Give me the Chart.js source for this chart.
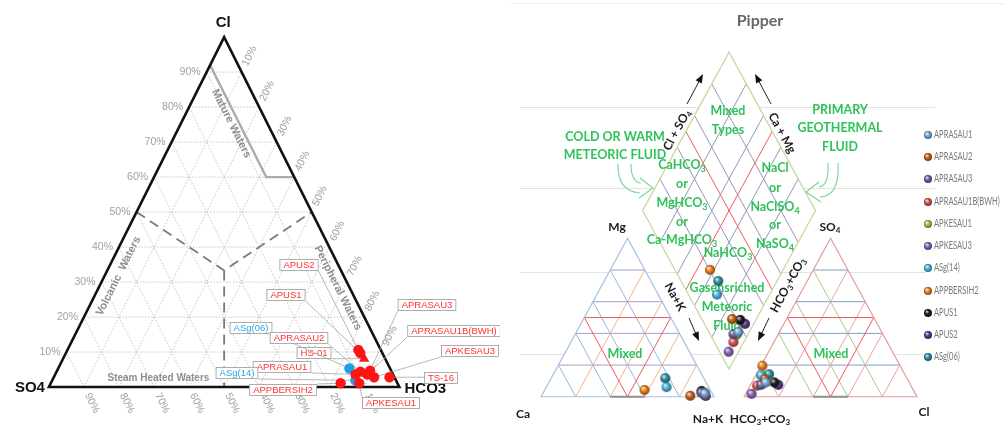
<!DOCTYPE html>
<html>
<head>
<meta charset="utf-8">
<script src="https://cdn.jsdelivr.net/npm/chart.js@4.4.1/dist/chart.umd.min.js"></script>
<style>
  html, body { margin: 0; padding: 0; background: #fff; }
  #wrap { position: relative; width: 1005px; height: 429px; overflow: hidden; }
  #c1 { position: absolute; left: 0; top: 0; }
  #c2 { position: absolute; left: 500px; top: 0; }
</style>
</head>
<body>
<div id="wrap">
  <canvas id="c1" width="500" height="429"></canvas>
  <canvas id="c2" width="505" height="429"></canvas>
</div>
<script>
// ---------------- Cl – SO4 – HCO3 ternary (percent of anion sum) ----------------
const gigSamples = ['APUS2', 'APUS1', 'HS-01', 'ASg(06)', 'APRASAU2', 'APRASAU1', 'APRASAU3',
                    'APRASAU1B(BWH)', 'APKESAU3', 'TS-16', 'ASg(14)', 'APKESAU1', 'APPBERSIH2'];
const gigCl   = [10.6, 9.7, 8.1, 5.3, 4.4, 3.6, 4.7, 3.6, 2.8, 2.8, 1.9, 1.1, 1.1];
const gigSO4  = [6.4, 6.3, 6.0, 11.6, 8.9, 10.7, 6.0, 7.4, 5.8, 1.4, 11.6, 10.9, 16.2];
const gigHCO3 = [83.0, 84.0, 85.9, 83.1, 86.7, 85.7, 89.3, 89.0, 91.4, 95.8, 86.5, 88.0, 82.7];
const gigKind = ['well', 'well', 'spring', 'gas', 'well', 'well', 'well',
                 'well', 'well', 'well', 'gas', 'well', 'well'];
const gigTicks = [10, 20, 30, 40, 50, 60, 70, 80, 90];

// ---------------- Piper diagram (percent meq) ----------------
const piperSamples = ['APRASAU1', 'APRASAU2', 'APRASAU3', 'APRASAU1B(BWH)', 'APKESAU1', 'APKESAU3',
                      'ASg(14)', 'APPBERSIH2', 'APUS1', 'APUS2', 'ASg(06)'];
const piperCa   = [4.3, 13.4, 6.0, 4.5, 4.0, 4.7, 24.4, 38.0, 5.3, 4.5, 22.3];
const piperMg   = [2.0, 0.6, 2.5, 1.5, 2.5, 1.0, 6.1, 4.3, 3.7, 0.5, 11.7];
const piperNaK  = [93.7, 86.0, 91.5, 94.0, 93.5, 94.3, 69.5, 57.7, 91.0, 95.0, 66.0];
const piperHCO3 = [83.0, 82.5, 86.4, 89.0, 85.0, 94.8, 83.5, 79.7, 78.0, 76.5, 78.5];
const piperSO4  = [9.0, 11.0, 7.5, 7.0, 8.6, 1.8, 13.5, 19.6, 9.0, 7.5, 14.2];
const piperCl   = [8.0, 6.5, 6.1, 4.0, 6.4, 3.4, 3.0, 0.7, 13.0, 16.0, 7.3];
const piperColors = ['#7ea8d8', '#c8621c', '#6b64a0', '#d9534f', '#9cc45a', '#8a66b8',
                     '#4cb8e0', '#f0801e', '#1e1e1e', '#5a3a90', '#2f8fa0'];
const piperSteps = [20, 40, 60, 80];

// ---------------- shared text helpers ----------------
function richParts(str) {
  const parts = []; const re = /_(\d+)/g; let last = 0, m;
  while ((m = re.exec(str))) {
    if (m.index > last) parts.push({ t: str.slice(last, m.index), sub: false });
    parts.push({ t: m[1], sub: true });
    last = re.lastIndex;
  }
  if (last < str.length) parts.push({ t: str.slice(last), sub: false });
  return parts;
}
function drawRich(ctx, str, x, y, size, weight, family, align) {
  const parts = richParts(str);
  const fMain = `${weight} ${size}px ${family}`;
  const fSub = `${weight} ${Math.round(size * 0.7)}px ${family}`;
  let w = 0;
  parts.forEach(p => { ctx.font = p.sub ? fSub : fMain; p.w = ctx.measureText(p.t).width; w += p.w; });
  let cx = align === 'right' ? x - w : align === 'left' ? x : x - w / 2;
  ctx.textAlign = 'left'; ctx.textBaseline = 'middle';
  parts.forEach(p => {
    ctx.font = p.sub ? fSub : fMain;
    ctx.fillText(p.t, cx, p.sub ? y + size * 0.3 : y);
    cx += p.w;
  });
  return w;
}
function rotText(ctx, str, x, y, ang, size, weight, family) {
  ctx.save(); ctx.translate(x, y); ctx.rotate(ang);
  drawRich(ctx, str, 0, 0, size, weight, family, 'center');
  ctx.restore();
}

// ---------------- Cl – SO4 – HCO3 ternary chart ----------------
// Callout boxes (page pixels) for each sample label, same order as gigSamples
const calloutAt = [[299, 265], [286, 295], [314, 353], [251, 328], [299, 338], [282, 367], [427, 305],
                   [454, 331], [470, 351], [441, 378], [237, 373], [391, 403], [283, 390]];

function ternXY(cl, so4, hc) { const t = cl + so4 + hc; return { x: (hc + cl / 2) / t, y: cl / t }; }

const gigFrame = {
  id: 'gigFrame',
  beforeDatasetsDraw(chart) {
    const { ctx, scales: { x: xs, y: ys } } = chart;
    const T = (cl, so4, hc) => { const p = ternXY(cl, so4, hc); return [xs.getPixelForValue(p.x), ys.getPixelForValue(p.y)]; };
    const line = (pts) => { ctx.beginPath(); pts.forEach((p, i) => i ? ctx.lineTo(p[0], p[1]) : ctx.moveTo(p[0], p[1])); ctx.stroke(); };
    const F = 'Liberation Sans, Arial, sans-serif';
    ctx.save();

    // dotted 10 % grid
    ctx.strokeStyle = '#b9b9b9'; ctx.lineWidth = 0.8; ctx.setLineDash([1.6, 1.6]);
    gigTicks.forEach(f => {
      line([T(f, 100 - f, 0), T(f, 0, 100 - f)]);
      line([T(0, f, 100 - f), T(100 - f, f, 0)]);
      line([T(0, 100 - f, f), T(100 - f, 0, f)]);
    });
    ctx.setLineDash([]);

    // mature-water boundary
    ctx.strokeStyle = '#ababab'; ctx.lineWidth = 2.4;
    line([T(92, 8, 0), T(60, 8, 32), T(60, 0, 40)]);

    // partition to the centroid
    ctx.strokeStyle = '#7a7a7a'; ctx.lineWidth = 1.8; ctx.setLineDash([10, 6]);
    const c = T(1, 1, 1);
    line([T(50, 50, 0), c, T(50, 0, 50)]);
    line([c, T(0, 50, 50)]);
    ctx.setLineDash([]);

    // triangle frame
    ctx.strokeStyle = '#111'; ctx.lineWidth = 2.6; ctx.lineJoin = 'miter';
    ctx.beginPath();
    [T(100, 0, 0), T(0, 100, 0), T(0, 0, 100)].forEach((p, i) => i ? ctx.lineTo(p[0], p[1]) : ctx.moveTo(p[0], p[1]));
    ctx.closePath(); ctx.stroke();

    // percentage ticks
    ctx.fillStyle = '#a0a0a0';
    gigTicks.forEach(f => {
      const e = T(f, 100 - f, 0);
      drawRich(ctx, f + '%', e[0] - 6, e[1], 10.5, 'normal', F, 'right');
      // HCO3 along the right edge
      const r1 = T(100 - f, 0, f), r0 = T(0, 100 - f, f);
      let dx = r1[0] - r0[0], dy = r1[1] - r0[1], L = Math.hypot(dx, dy); dx /= L; dy /= L;
      rotText(ctx, f + '%', r1[0] + dx * 18, r1[1] + dy * 18, Math.atan2(dy, dx), 10.5, 'normal', F);
      // SO4 along the base
      const b1 = T(0, f, 100 - f), b0 = T(100 - f, f, 0);
      dx = b1[0] - b0[0]; dy = b1[1] - b0[1]; L = Math.hypot(dx, dy); dx /= L; dy /= L;
      rotText(ctx, f + '%', b1[0] + dx * 18, b1[1] + dy * 18, Math.atan2(dy, dx), 10.5, 'normal', F);
    });

    // field names
    const top = T(100, 0, 0), lft = T(0, 100, 0), rgt = T(0, 0, 100);
    const angR = Math.atan2(rgt[1] - top[1], rgt[0] - top[0]);
    const angL = Math.atan2(top[1] - lft[1], top[0] - lft[0]);
    ctx.fillStyle = '#8e8e8e';
    let p = T(75.3, 10.3, 14.4); rotText(ctx, 'Mature Waters', p[0], p[1], angR, 11, 'bold', F);
    p = T(31.7, 64.3, 4.0); rotText(ctx, 'Volcanic  Waters', p[0], p[1], angL, 11, 'bold', F);
    p = T(28.3, 3.4, 68.3); rotText(ctx, 'Peripheral Waters', p[0], p[1], angR, 11, 'bold', F);
    p = T(2.5, 67.5, 30.0); rotText(ctx, 'Steam Heated Waters', p[0], p[1], 0, 10, 'bold', F);

    // apex names
    ctx.fillStyle = '#111';
    drawRich(ctx, 'Cl', top[0] - 1, top[1] - 14, 15, 'bold', F, 'center');
    drawRich(ctx, 'SO4', lft[0] - 19, lft[1] + 1, 15, 'bold', F, 'center');
    drawRich(ctx, 'HCO3', rgt[0] + 26, rgt[1] + 2, 15, 'bold', F, 'center');

    // sample callouts
    ctx.font = `9.5px ${F}`;
    gigSamples.forEach((name, i) => {
      const pt = T(gigCl[i], gigSO4[i], gigHCO3[i]);
      const w = ctx.measureText(name).width + 8, h = 12;
      const [cx, cy] = calloutAt[i];
      const x0 = cx - w / 2, y0 = cy - h / 2;
      const ax = Math.min(Math.max(pt[0], x0), x0 + w), ay = Math.min(Math.max(pt[1], y0), y0 + h);
      ctx.strokeStyle = '#a6a6a6'; ctx.lineWidth = 0.8;
      ctx.beginPath(); ctx.moveTo(ax, ay); ctx.lineTo(pt[0], pt[1]); ctx.stroke();
      ctx.fillStyle = '#fff'; ctx.fillRect(x0, y0, w, h);
      ctx.strokeStyle = '#9a9a9a'; ctx.strokeRect(x0 + 0.5, y0 + 0.5, w - 1, h - 1);
      ctx.fillStyle = gigKind[i] === 'gas' ? '#2aa6e2' : '#ff3030';
      ctx.textAlign = 'center'; ctx.textBaseline = 'middle'; ctx.font = `9.5px ${F}`;
      ctx.fillText(name, cx, cy + 0.5);
    });
    ctx.restore();
  }
};

const kindStyle = {
  well:   { color: '#ff1414', style: 'circle', r: 5.2 },
  spring: { color: '#ff1414', style: 'triangle', r: 6 },
  gas:    { color: '#1da1e6', style: 'circle', r: 5.2 }
};
const gigDatasets = Object.keys(kindStyle).map(k => ({
  label: k,
  data: gigSamples.map((s, i) => i).filter(i => gigKind[i] === k)
        .map(i => ternXY(gigCl[i], gigSO4[i], gigHCO3[i])),
  pointStyle: kindStyle[k].style,
  pointRadius: kindStyle[k].r,
  backgroundColor: kindStyle[k].color,
  borderColor: kindStyle[k].color,
  borderWidth: 0
}));

new Chart(document.getElementById('c1'), {
  type: 'scatter',
  data: { datasets: gigDatasets },
  options: {
    responsive: false, animation: false, devicePixelRatio: 1,
    layout: { padding: 0 },
    plugins: { legend: { display: false }, tooltip: { enabled: false } },
    scales: {
      x: { type: 'linear', display: false, min: -44 / 359, max: 456 / 359 },
      y: { type: 'linear', display: false, min: -37 / 360, max: 392 / 360 }
    }
  },
  plugins: [gigFrame]
});

// ---------------- Piper chart ----------------
const GAP = 0.175;                        // gap between the two triangles, in base units
const DB = { x: 1 + GAP / 2, y: GAP };    // lowest vertex of the diamond

function cationXY(ca, mg, nak) { const t = ca + mg + nak; return { x: (nak + mg / 2) / t, y: mg / t }; }
function anionXY(hc, so4, cl) { const t = hc + so4 + cl; return { x: 1 + GAP + (cl + so4 / 2) / t, y: so4 / t }; }
function diamondXY(ca, mg, nak, hc, so4, cl) {
  const n = nak / (ca + mg + nak), h = hc / (hc + so4 + cl);
  return { x: DB.x + (n - h) / 2, y: DB.y + 2 - n - h };
}

function shade(hex, amt) {
  const n = parseInt(hex.slice(1), 16);
  let r = n >> 16, g = (n >> 8) & 255, b = n & 255;
  const f = v => Math.max(0, Math.min(255, Math.round(amt >= 0 ? v + (255 - v) * amt : v * (1 + amt))));
  return `rgb(${f(r)},${f(g)},${f(b)})`;
}
function sphere(color, r) {
  const c = document.createElement('canvas');
  c.width = c.height = 2 * r + 2;
  const x = c.getContext('2d'), m = r + 1;
  const g = x.createRadialGradient(m - r * 0.35, m - r * 0.4, r * 0.1, m, m, r);
  g.addColorStop(0, shade(color, 0.75));
  g.addColorStop(0.45, color);
  g.addColorStop(1, shade(color, -0.45));
  x.fillStyle = g; x.beginPath(); x.arc(m, m, r, 0, Math.PI * 2); x.fill();
  return c;
}

const piperDatasets = piperSamples.map((name, i) => ({
  label: name,
  data: [
    cationXY(piperCa[i], piperMg[i], piperNaK[i]),
    diamondXY(piperCa[i], piperMg[i], piperNaK[i], piperHCO3[i], piperSO4[i], piperCl[i]),
    anionXY(piperHCO3[i], piperSO4[i], piperCl[i])
  ],
  pointStyle: sphere(piperColors[i], 5),
  pointRadius: 5,
  backgroundColor: piperColors[i]
}));

const CANVAS_LEFT = 500;   // page offset of the Piper canvas
const greenNotes = [
  ['Mixed', 728, 111], ['Types', 728, 130],
  ['CaHCO_3', 682, 165], ['or', 682, 184], ['MgHCO_3', 682, 203], ['or', 682, 222], ['Ca-MgHCO_3', 682, 240],
  ['NaCl', 775, 168], ['or', 775, 188], ['NaClSO_4', 775, 207], ['or', 775, 225], ['NaSO_4', 775, 244],
  ['NaHCO_3', 728, 253],
  ['Gasensriched', 727, 288], ['Meteoric', 727, 307], ['Fluid', 727, 326],
  ['Mixed', 625, 354], ['Mixed', 831, 354],
  ['COLD OR WARM', 615, 137], ['METEORIC FLUID', 615, 155],
  ['PRIMARY', 840, 110], ['GEOTHERMAL', 840, 128], ['FLUID', 840, 147]
];
const legendY = [135, 157, 179, 202, 224, 246, 268, 291, 313, 335, 357];

const piperFrame = {
  id: 'piperFrame',
  beforeDatasetsDraw(chart) {
    const { ctx, scales: { x: xs, y: ys } } = chart;
    const P = (x, y) => [xs.getPixelForValue(x), ys.getPixelForValue(y)];
    const seg = (a, b, col, w) => {
      ctx.strokeStyle = col; ctx.lineWidth = w || 1;
      ctx.beginPath(); ctx.moveTo(...P(a[0], a[1])); ctx.lineTo(...P(b[0], b[1])); ctx.stroke();
    };
    const shape = (pts) => { ctx.beginPath(); pts.forEach((q, i) => { const p = P(q[0], q[1]); i ? ctx.lineTo(p[0], p[1]) : ctx.moveTo(p[0], p[1]); }); ctx.closePath(); };
    const F = 'Lato, "Open Sans", sans-serif';
    ctx.save();

    // light horizontal guide lines behind the diagram
    ctx.strokeStyle = '#e2e2e2'; ctx.lineWidth = 1;
    [[107, 20, 435], [188, 20, 435], [272, 20, 426], [354, 20, 426]].forEach(([y, a, b]) => {
      ctx.beginPath(); ctx.moveTo(a, y + 0.5); ctx.lineTo(b, y + 0.5); ctx.stroke();
    });
    ctx.strokeStyle = '#efefef';
    ctx.beginPath(); ctx.moveTo(10, 3.5); ctx.lineTo(505, 3.5); ctx.stroke();

    const cat = [[0, 0], [1, 0], [0.5, 1]];
    const an = [[1 + GAP, 0], [2 + GAP, 0], [1.5 + GAP, 1]];
    const dia = [[DB.x, DB.y], [DB.x + 0.5, DB.y + 1], [DB.x, DB.y + 2], [DB.x - 0.5, DB.y + 1]];
    ctx.fillStyle = '#fff';
    [cat, an, dia].forEach(s => { shape(s); ctx.fill(); });

    // cation triangle
    piperSteps.forEach(s => {
      const f = s / 100;
      seg([f / 2, f], [1 - f / 2, f], '#a99bd0');
      seg([f, 0], [f + (1 - f) / 2, 1 - f], '#f3b48c');
      seg([1 - f, 0], [(1 - f) / 2, 1 - f], '#93b9dc');
    });
    ctx.strokeStyle = '#f25a5a'; ctx.lineWidth = 1; shape([[0.25, 0.5], [0.75, 0.5], [0.5, 0]]); ctx.stroke();
    ctx.strokeStyle = '#a3c1e2'; ctx.lineWidth = 1.2; shape(cat); ctx.stroke();
    seg([0.4, 0], [0.6, 0], '#8f8f8f', 2.2);

    // anion triangle
    const o = 1 + GAP;
    piperSteps.forEach(s => {
      const f = s / 100;
      seg([o + f / 2, f], [o + 1 - f / 2, f], '#7f9ec8');
      seg([o + f, 0], [o + f + (1 - f) / 2, 1 - f], '#e9a3a3');
      seg([o + 1 - f, 0], [o + (1 - f) / 2, 1 - f], '#a9c98a');
    });
    ctx.strokeStyle = '#f25a5a'; ctx.lineWidth = 1; shape([[o + 0.25, 0.5], [o + 0.75, 0.5], [o + 0.5, 0]]); ctx.stroke();
    ctx.strokeStyle = '#e49c9c'; ctx.lineWidth = 1.2; shape(an); ctx.stroke();
    seg([o + 0.4, 0], [o + 0.6, 0], '#8f8f8f', 2.2);

    // diamond
    [...piperSteps, 50].forEach(s => {
      const f = s / 100, red = s === 50;
      const a = [DB.x - 0.5 * f, DB.y + f], b = [DB.x + 0.5 * f, DB.y + f];
      seg(a, [a[0] + 0.5, a[1] + 1], red ? '#f25a5a' : '#8e9db6');
      seg(b, [b[0] - 0.5, b[1] + 1], red ? '#f25a5a' : '#9d93bf');
    });
    ctx.strokeStyle = '#c6daa2'; ctx.lineWidth = 1.3; shape(dia); ctx.stroke();

    // annotations (page coordinates)
    ctx.translate(-CANVAS_LEFT, 0);
    ctx.fillStyle = '#676767';
    drawRich(ctx, 'Pipper', 760, 21, 16, 'bold', F, 'center');

    ctx.fillStyle = '#2fc25a';
    greenNotes.forEach(([t, x, y]) => drawRich(ctx, t, x, y, 12.5, 'bold', F, 'center'));

    // hollow curved pointers
    ctx.strokeStyle = '#7fd79b'; ctx.lineWidth = 1.2;
    ctx.beginPath(); ctx.moveTo(618, 164); ctx.quadraticCurveTo(617, 191, 640, 193); ctx.stroke();
    ctx.beginPath(); ctx.moveTo(631, 164); ctx.quadraticCurveTo(631, 182, 641, 183); ctx.stroke();
    ctx.beginPath(); ctx.moveTo(640, 178); ctx.lineTo(653, 188); ctx.lineTo(639, 198); ctx.stroke();
    ctx.beginPath(); ctx.moveTo(838, 163); ctx.quadraticCurveTo(840, 196, 820, 197); ctx.stroke();
    ctx.beginPath(); ctx.moveTo(828, 163); ctx.quadraticCurveTo(829, 186, 819, 187); ctx.stroke();
    ctx.beginPath(); ctx.moveTo(819, 182); ctx.lineTo(806, 192); ctx.lineTo(821, 202); ctx.stroke();

    // axis names
    ctx.fillStyle = '#1c1c1c';
    [['Mg', 617, 227], ['Ca', 523, 414], ['Na+K', 708, 419], ['HCO_3+CO_3', 760, 419], ['SO_4', 830, 227], ['Cl', 924, 412]]
      .forEach(([t, x, y]) => drawRich(ctx, t, x, y, 12, 'bold', F, 'center'));
    const up = Math.atan2(-163, 88.5);
    rotText(ctx, 'Cl + SO_4', 677, 130, up, 12, 'bold', F);
    rotText(ctx, 'Ca + Mg', 782, 133, -up, 12, 'bold', F);
    rotText(ctx, 'Na+K', 675, 297, -up, 12, 'bold', F);
    rotText(ctx, 'HCO_3+CO_3', 788, 285, up, 12, 'bold', F);

    const arrow = (x1, y1, x2, y2) => {
      const a = Math.atan2(y2 - y1, x2 - x1);
      ctx.strokeStyle = '#222'; ctx.lineWidth = 1;
      ctx.beginPath(); ctx.moveTo(x1, y1); ctx.lineTo(x2 - 6 * Math.cos(a), y2 - 6 * Math.sin(a)); ctx.stroke();
      ctx.fillStyle = '#111';
      ctx.beginPath(); ctx.moveTo(x2, y2);
      ctx.lineTo(x2 - 9 * Math.cos(a) + 3.5 * Math.sin(a), y2 - 9 * Math.sin(a) - 3.5 * Math.cos(a));
      ctx.lineTo(x2 - 9 * Math.cos(a) - 3.5 * Math.sin(a), y2 - 9 * Math.sin(a) + 3.5 * Math.cos(a));
      ctx.closePath(); ctx.fill();
    };
    arrow(687, 104, 703, 74);
    arrow(771, 104, 755, 74);
    arrow(689, 318, 699, 341);
    arrow(769, 318, 758, 341);
    ctx.restore();
  },
  afterDatasetsDraw(chart) {
    const { ctx } = chart;
    ctx.save();
    ctx.translate(-CANVAS_LEFT, 0);
    piperSamples.forEach((name, i) => {
      ctx.drawImage(sphere(piperColors[i], 4), 928 - 5, legendY[i] - 5);
      ctx.fillStyle = '#7a7a7a';
      ctx.save(); ctx.translate(934, legendY[i]); ctx.scale(0.72, 1);
      drawRich(ctx, name, 0, 0, 10.5, 'normal', 'Lato, sans-serif', 'left');
      ctx.restore();
    });
    ctx.restore();
  }
};

new Chart(document.getElementById('c2'), {
  type: 'scatter',
  data: { datasets: piperDatasets },
  options: {
    responsive: false, animation: false, devicePixelRatio: 1,
    layout: { padding: 0 },
    plugins: { legend: { display: false }, tooltip: { enabled: false } },
    scales: {
      x: { type: 'linear', display: false, min: -36 / 177, max: 469 / 177 },
      y: { type: 'linear', display: false, min: -27 / 163, max: 402 / 163 }
    }
  },
  plugins: [piperFrame]
});
</script>
</body>
</html>
